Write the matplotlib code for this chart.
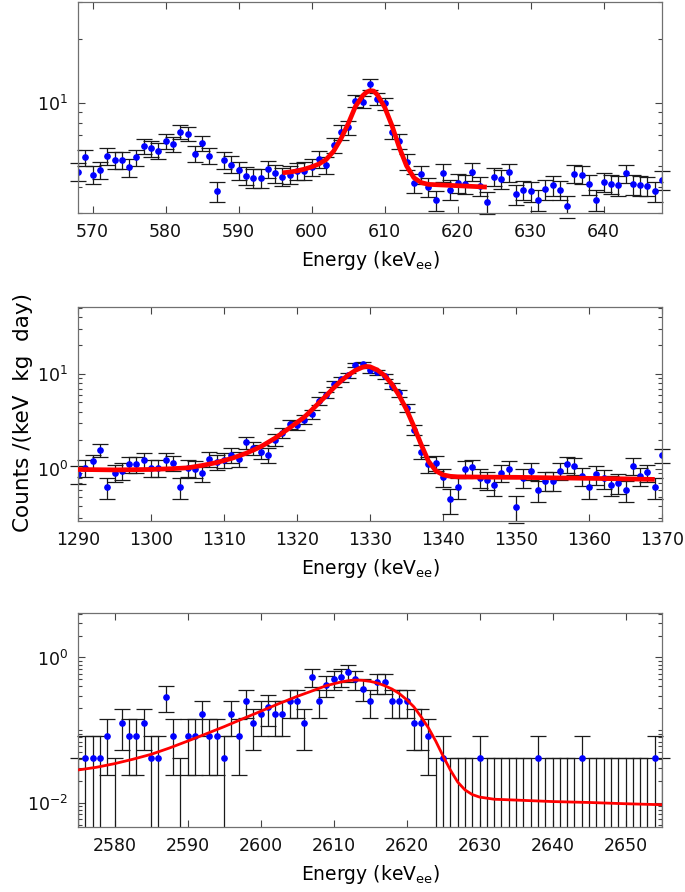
import numpy as np
import matplotlib
matplotlib.use('Agg')
import matplotlib.pyplot as plt
from matplotlib.ticker import LogLocator, NullFormatter

plt.rcParams['font.family'] = 'DejaVu Sans'
plt.rcParams['mathtext.default'] = 'regular'

# ---- panel 1 : 609 keV line ----
p1_e = np.arange(568, 649)
p1_v = [4.72, 5.51, 4.57, 4.81, 5.59, 5.35, 5.35, 4.94, 5.51, 6.21,
        6.08, 5.93, 6.59, 6.35, 7.28, 7.14, 5.75, 6.42, 5.61, 3.82,
        5.35, 5.10, 4.78, 4.52, 4.41, 4.41, 4.85, 4.64, 4.47, 4.56,
        4.75, 4.77, 4.97, 5.41, 5.07, 6.31, 7.25, 7.65, 10.2, 10.07,
        12.2, 10.4, 9.92, 7.28, 6.61, 5.27, 4.17, 4.59, 3.99, 3.45,
        4.66, 3.88, 4.19, 4.14, 4.72, 4.04, 3.38, 4.47, 4.36, 4.69,
        3.70, 3.87, 3.82, 3.46, 3.89, 4.07, 3.87, 3.24, 4.61, 4.56,
        4.11, 3.46, 4.21, 4.13, 4.07, 4.64, 4.11, 4.07, 4.03, 3.82,
        4.31]
p1_err = [0.46, 0.49, 0.45, 0.46, 0.50, 0.49, 0.49, 0.47, 0.49, 0.52,
          0.52, 0.51, 0.54, 0.53, 0.57, 0.56, 0.50, 0.53, 0.50, 0.41,
          0.49, 0.47, 0.46, 0.45, 0.44, 0.44, 0.46, 0.45, 0.44, 0.45,
          0.46, 0.46, 0.47, 0.49, 0.47, 0.53, 0.57, 0.58, 0.67, 0.67,
          0.73, 0.68, 0.66, 0.57, 0.54, 0.48, 0.43, 0.45, 0.42, 0.39,
          0.45, 0.41, 0.43, 0.43, 0.46, 0.42, 0.39, 0.44, 0.44, 0.45,
          0.40, 0.41, 0.41, 0.39, 0.41, 0.43, 0.41, 0.38, 0.45, 0.45,
          0.43, 0.39, 0.43, 0.43, 0.43, 0.45, 0.43, 0.43, 0.42, 0.41,
          0.44]
p1_fit_e = [596, 597, 598, 599, 600, 601, 602, 603, 604, 605, 606, 607,
            607.5, 608, 608.5, 609, 610, 611, 612, 613, 614, 615, 616,
            618, 620, 622, 624]
p1_fit_v = [4.66, 4.70, 4.76, 4.85, 4.97, 5.13, 5.39, 5.89, 6.74, 7.94,
            9.60, 10.8, 11.2, 11.4, 11.35, 10.9, 9.53, 7.8, 6.15, 5.03,
            4.42, 4.19, 4.11, 4.08, 4.05, 4.02, 3.99]

# ---- panel 2 : 1332 keV line ----
p2_e = np.arange(1290, 1371)
p2_v = [0.88, 1.02, 1.19, 1.57, 0.635, 0.91, 0.95, 1.11, 1.11, 1.23,
        1.02, 1.02, 1.23, 1.15, 0.635, 1.02, 1.0, 0.91, 1.27, 1.18,
        1.23, 1.40, 1.27, 1.89, 1.65, 1.51, 1.40, 2.02, 2.4, 2.96,
        2.87, 3.3, 3.75, 5.2, 6.0, 7.85, 8.8, 9.7, 12.4, 12.7,
        11.0, 10.4, 9.4, 7.4, 6.24, 4.37, 2.58, 1.51, 1.12, 1.15,
        0.82, 0.474, 0.635, 0.99, 1.03, 0.80, 0.758, 0.671, 0.906, 0.99,
        0.39, 0.80, 0.95, 0.594, 0.745, 0.745, 0.95, 1.12, 1.07, 0.84,
        0.635, 0.87, 0.79, 0.671, 0.71, 0.594, 1.07, 0.84, 0.914, 0.635,
        1.39]
p2_err = [0.19, 0.20, 0.22, 0.25, 0.16, 0.19, 0.19, 0.21, 0.21, 0.22,
          0.20, 0.20, 0.22, 0.21, 0.16, 0.20, 0.20, 0.19, 0.23, 0.22,
          0.22, 0.24, 0.23, 0.27, 0.26, 0.25, 0.24, 0.28, 0.31, 0.34,
          0.34, 0.36, 0.39, 0.46, 0.49, 0.56, 0.59, 0.62, 0.70, 0.71,
          0.66, 0.64, 0.61, 0.54, 0.50, 0.42, 0.32, 0.25, 0.21, 0.21,
          0.18, 0.14, 0.16, 0.20, 0.20, 0.18, 0.17, 0.16, 0.19, 0.20,
          0.125, 0.18, 0.19, 0.15, 0.17, 0.17, 0.19, 0.21, 0.21, 0.18,
          0.16, 0.19, 0.18, 0.16, 0.17, 0.15, 0.21, 0.18, 0.19, 0.16,
          0.24]
p2_fit_e = [1290, 1295, 1300, 1303, 1305, 1307, 1309, 1311, 1313, 1315,
            1317, 1319, 1321, 1322, 1323, 1324, 1325, 1326, 1327, 1328,
            1329, 1329.5, 1330, 1331, 1332, 1333, 1334, 1335, 1336, 1337,
            1338, 1339, 1340, 1341, 1342, 1345, 1350, 1355, 1360, 1365,
            1369]
p2_fit_v = [0.98, 0.97, 0.98, 1.0, 1.02, 1.08, 1.16, 1.28, 1.45, 1.70,
            2.1, 2.7, 3.5, 4.15, 4.95, 5.9, 7.1, 8.4, 9.7, 10.9,
            11.8, 12.0, 11.9, 11.0, 9.6, 7.8, 5.9, 4.2, 2.8, 1.8,
            1.2, 0.95, 0.86, 0.83, 0.82, 0.815, 0.81, 0.80, 0.79, 0.78,
            0.77]

# ---- panel 3 : 2615 keV line ----
p3_e = np.arange(2575, 2656)
p3_v = [0, 0.0416, 0.0416, 0.0416, 0.0832, 0, 0.125, 0.0832, 0.0832, 0.125,
        0.0416, 0.0416, 0.291, 0.0832, 0, 0.0832, 0.0832, 0.166, 0.0832, 0.0832,
        0.0416, 0.166, 0.0832, 0.250, 0.125, 0.166, 0.208, 0.166, 0.166, 0.250,
        0.250, 0.125, 0.541, 0.250, 0.416, 0.499, 0.541, 0.624, 0.499, 0.374,
        0.250, 0.458, 0.458, 0.250, 0.250, 0.250, 0.125, 0.125, 0.0832, 0,
        0.0416, 0, 0, 0, 0, 0.0416, 0, 0, 0, 0,
        0, 0, 0, 0.0416, 0, 0, 0, 0, 0, 0.0416,
        0, 0, 0, 0, 0, 0, 0, 0, 0, 0.0416,
        0]
p3_err = [0.0416, 0.0416, 0.0416, 0.0416, 0.0588, 0.0416, 0.0721, 0.0588, 0.0588, 0.0721,
          0.0416, 0.0416, 0.110, 0.0588, 0.0416, 0.0588, 0.0588, 0.0832, 0.0588, 0.0588,
          0.0416, 0.0832, 0.0588, 0.102, 0.0721, 0.0832, 0.093, 0.0832, 0.0832, 0.102,
          0.102, 0.0721, 0.150, 0.102, 0.132, 0.144, 0.150, 0.161, 0.144, 0.125,
          0.102, 0.138, 0.138, 0.102, 0.102, 0.102, 0.0721, 0.0721, 0.0588, 0.0416,
          0.0416, 0.0416, 0.0416, 0.0416, 0.0416, 0.0416, 0.0416, 0.0416, 0.0416, 0.0416,
          0.0416, 0.0416, 0.0416, 0.0416, 0.0416, 0.0416, 0.0416, 0.0416, 0.0416, 0.0416,
          0.0416, 0.0416, 0.0416, 0.0416, 0.0416, 0.0416, 0.0416, 0.0416, 0.0416, 0.0416,
          0.0416]
p3_fit_e = [2575, 2577.5, 2580, 2582.5, 2585, 2587.5, 2590, 2592.5, 2595, 2597.5,
            2600, 2602.5, 2605, 2607, 2609, 2611, 2612, 2613, 2614, 2615,
            2616, 2617, 2618, 2619, 2620, 2621, 2622, 2623, 2624, 2625,
            2626, 2627, 2628, 2629, 2630, 2632, 2635, 2640, 2645, 2650,
            2655]
p3_fit_v = [0.0285, 0.031, 0.0348, 0.040, 0.0467, 0.057, 0.071, 0.089, 0.112, 0.143,
            0.182, 0.232, 0.292, 0.345, 0.41, 0.46, 0.48, 0.49, 0.485, 0.47,
            0.446, 0.41, 0.369, 0.32, 0.264, 0.21, 0.153, 0.108, 0.071, 0.0443,
            0.0285, 0.0195, 0.0152, 0.0131, 0.0121, 0.0113, 0.0110, 0.0105, 0.0102, 0.0098,
            0.0095]

xlabel = 'Energy (keV$_{ee}$)'
ylabel = 'Counts /(keV  kg  day)'
gray = '#707070'

fig = plt.figure(figsize=(6.85, 8.92), dpi=100)


def panel(rect, e, v, err, fe, fv, xlim, ylim, xticks, yticks, yticklabels, fit_lw):
    ax = fig.add_axes(rect)
    ax.set_yscale('log')
    v = np.array(v, dtype=float)
    err = np.array(err, dtype=float)
    _, caps, _ = ax.errorbar(e, v, yerr=err, fmt='o', color='#0000ff', ms=3.8,
                             mec='#0000ff', ecolor='#1a1a1a', elinewidth=0.9,
                             capsize=5.6, capthick=0.9)
    for c in caps:
        if np.all(np.asarray(c.get_ydata()) > 0):
            c.set_clip_on(False)
    ax.plot(fe, fv, color='#ff0000', lw=fit_lw, zorder=5, solid_capstyle='butt')
    ax.set_xlim(*xlim)
    ax.set_ylim(*ylim)
    ax.set_xticks(xticks)
    ax.set_yticks(yticks)
    ax.set_yticklabels(yticklabels)
    ax.yaxis.set_minor_locator(LogLocator(base=10, subs=np.arange(1, 10), numticks=50))
    ax.yaxis.set_minor_formatter(NullFormatter())
    ax.tick_params(which='both', direction='in', top=True, right=True,
                   color='#444444', width=0.8, labelsize=12.5, labelcolor='#111111')
    ax.tick_params(which='major', length=5, pad=7)
    ax.tick_params(which='minor', length=2.6)
    for s in ax.spines.values():
        s.set_color(gray)
        s.set_linewidth(0.9)
    ax.set_xlabel(xlabel, fontsize=13.5, labelpad=6)
    return ax


panel([0.1139, 0.7609, 0.8526, 0.2371], p1_e, p1_v, p1_err, p1_fit_e, p1_fit_v,
      (568, 648), (3, 30), np.arange(570, 641, 10), [10], ['$10^{1}$'], 3.4)
panel([0.1139, 0.4159, 0.8526, 0.2396], p2_e, p2_v, p2_err, p2_fit_e, p2_fit_v,
      (1290, 1370), (0.28, 50.5), np.arange(1290, 1371, 10), [1, 10],
      ['$10^{0}$', '$10^{1}$'], 3.4)
panel([0.1139, 0.0729, 0.8526, 0.2396], p3_e, p3_v, p3_err, p3_fit_e, p3_fit_v,
      (2575, 2655), (0.0047, 4.05), np.arange(2580, 2651, 10), [0.01, 1],
      ['$10^{-2}$', '$10^{0}$'], 2.0)

fig.text(0.034, 0.537, ylabel, rotation=90, ha='center', va='center', fontsize=15.5)

fig.savefig('out.png', dpi=100)
